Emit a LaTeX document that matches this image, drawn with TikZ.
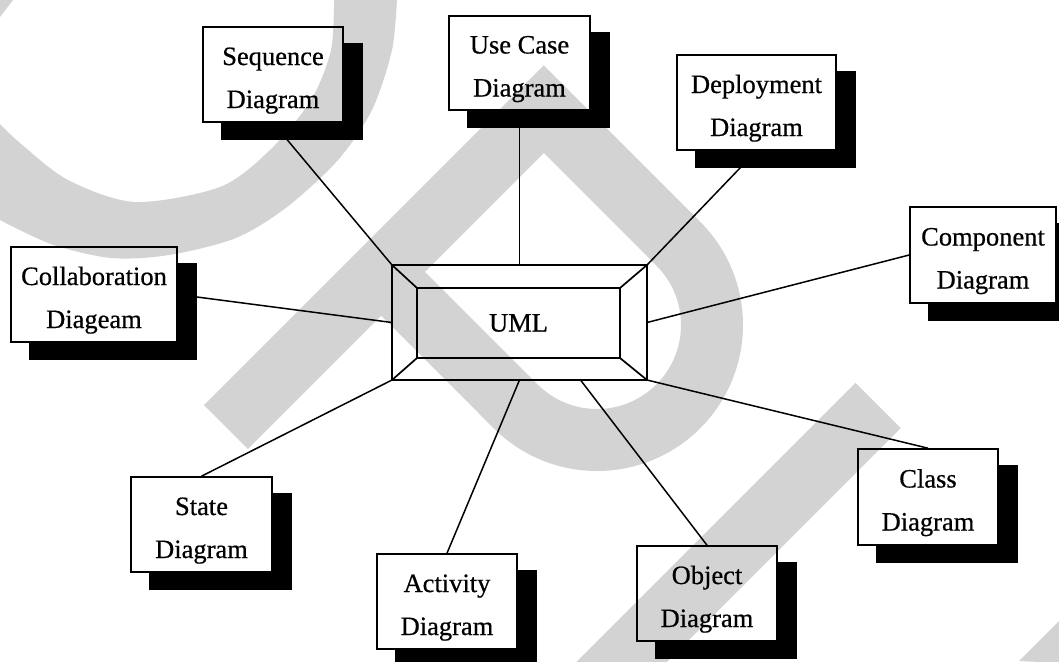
\documentclass[tikz,border=0pt]{standalone}
\usepackage{fontspec}
\setmainfont{Liberation Serif}
\newfontfamily\lblfont{Liberation Serif}[FakeBold=0.6]
\usetikzlibrary{calc}
\definecolor{wmgray}{RGB}{211,211,211}
\tikzset{
  wm/.style={wmgray},
  diagbox/.style={draw, line width=1.6pt, inner sep=0pt, minimum height=95pt,
    align=center, font=\lblfont\fontsize{26.5}{43}\selectfont, text height=72pt, text depth=5pt},
  framebox/.style={draw, line width=1.7pt, inner sep=0pt, outer sep=0pt},
  link/.style={line width=1.5pt},
}
% solid black drop shadow, only the part that shows below and right of a box
\newcommand\boxshadow[1]{%
  \fill ([yshift=-17pt]#1.north east) -- ([xshift=19pt,yshift=-17pt]#1.north east)
    -- ([xshift=19pt,yshift=-17pt]#1.south east) -- ([xshift=19pt,yshift=-17pt]#1.south west)
    -- ([xshift=19pt]#1.south west) -- (#1.south east) -- cycle;}
\begin{document}
\begin{tikzpicture}[x=1pt,y=-1pt]
\useasboundingbox (0,0) rectangle (1059,661);
\fill[white] (0,0) rectangle (1059,661);

% light grey background mark
\fill[wm] plot[smooth] coordinates {(397,-2) (392,50) (372,110) (338,160) (287,207) (236,238) (169,255) (111,258) (51,244) (-2,219)}
  -- plot[smooth] coordinates {(-2,122) (20,143) (68,180) (135,202) (220,187) (270,150) (311,100) (331,50) (334,-2)} -- cycle;
\fill[wm] (0,0) -- (13,0) -- (0,17) -- cycle;
\draw[wm, line width=62pt] (226,427) -- (543.8,109.2) -- (678.3,243.7)
  arc[start angle=45, end angle=-135, radius=115pt] -- (381.2,271.8);
\draw[wm, line width=64pt] (878,405.5) -- (578,705.5);
\fill[wm] (1019,661) -- (1061,619) -- (1061,663) -- cycle;

% central UML frame
\node[framebox, minimum width=255pt, minimum height=115pt] (uml) at (519.5,322.5) {};
\node[framebox, minimum width=203pt, minimum height=70pt, font=\lblfont\fontsize{26.5}{30}\selectfont] (umlin) at (518.5,323) {UML};
\draw[line width=1.7pt] (uml.north west) -- (umlin.north west);
\draw[line width=1.7pt] (uml.north east) -- (umlin.north east);
\draw[line width=1.7pt] (uml.south west) -- (umlin.south west);
\draw[line width=1.7pt] (uml.south east) -- (umlin.south east);

% diagram kinds
\node[diagbox, minimum width=140pt] (seq) at (273,74.5) {Sequence\\Diagram};
\node[diagbox, minimum width=141pt, minimum height=94pt] (usecase) at (519.5,63) {Use Case\\Diagram};
\node[diagbox, minimum width=159pt] (deploy) at (756.5,102.5) {Deployment\\Diagram};
\node[diagbox, minimum width=146pt, minimum height=96pt] (comp) at (983,255) {Component\\Diagram};
\node[diagbox, minimum width=166pt] (collab) at (94,294.5) {Collaboration\\Diageam};
\node[diagbox, minimum width=141pt] (state) at (201.5,524.5) {State\\Diagram};
\node[diagbox, minimum width=140pt] (activity) at (447,601.5) {Activity\\Diagram};
\node[diagbox, minimum width=140pt] (object) at (707,593.5) {Object\\Diagram};
\node[diagbox, minimum width=140pt, minimum height=96pt] (class) at (928,497) {Class\\Diagram};

\foreach \b in {seq,usecase,deploy,comp,collab,state,activity,object,class}{\boxshadow{\b}}

% connectors to the UML frame
\draw[link] (seq.south) -- (uml.north west);
\draw[link] (usecase.south) -- (uml.north);
\draw[link] (deploy.south) -- (uml.north east);
\draw[link] (comp.west) -- (uml.east);
\draw[link] (collab.east) -- (uml.west);
\draw[link] (state.north) -- (uml.south west);
\draw[link] (activity.north) -- (uml.south);
\draw[link] (object.north) -- ([xshift=61pt]uml.south);
\draw[link] (class.north) -- (uml.south east);
\end{tikzpicture}
\end{document}
